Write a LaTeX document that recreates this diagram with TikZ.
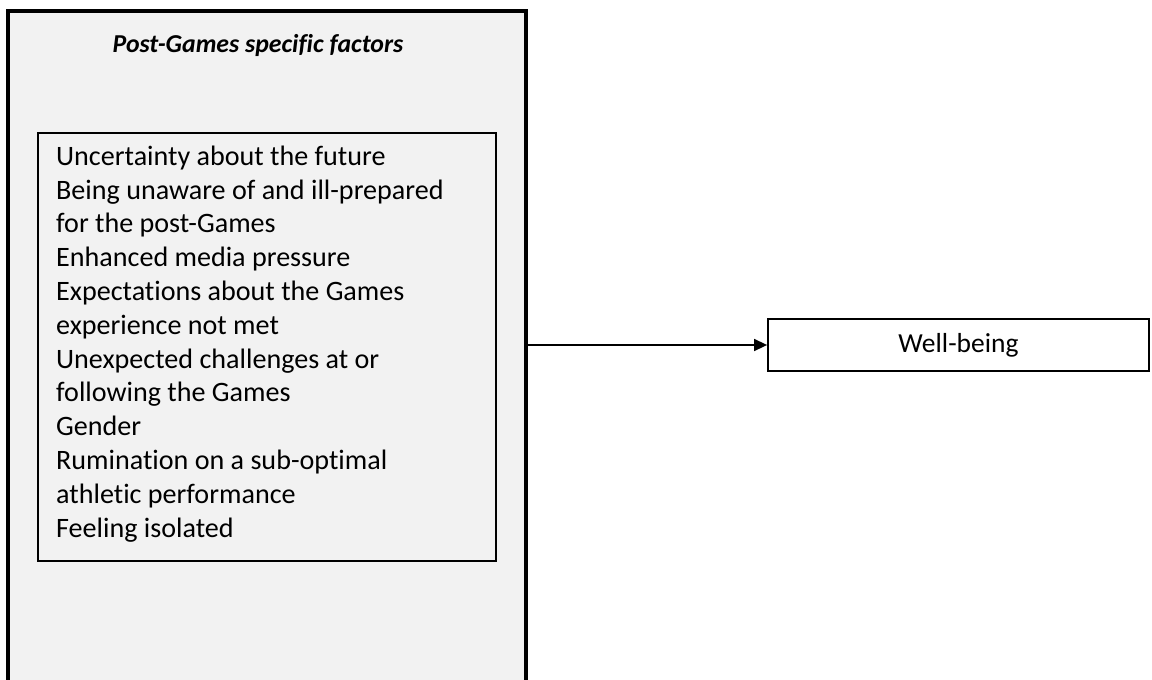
\documentclass[tikz,border=0pt]{standalone}
\usepackage{fontspec}
\setmainfont{Carlito}[Ligatures=NoCommon]
\usetikzlibrary{arrows.meta}
\definecolor{panelgrey}{HTML}{F2F2F2}
\tikzset{
  panel/.style={draw=black, fill=panelgrey, line width=4pt, inner sep=0pt},
  listbox/.style={draw=black, fill=panelgrey, line width=1.6pt, inner sep=0pt},
  outbox/.style={draw=black, fill=white, line width=1.8pt, inner sep=0pt,
    font=\fontsize{27.5}{30}\selectfont},
  listtext/.style={align=left, inner sep=0pt, font=\fontsize{28.1}{33.8}\selectfont},
  titletext/.style={inner sep=0pt, font=\fontsize{25.8}{30}\selectfont\bfseries\itshape},
  flow/.style={line width=1.5pt, -{Triangle[length=13pt,width=12pt]}}
}
\begin{document}
\begin{tikzpicture}[x=1pt,y=-1pt]
\useasboundingbox (0,0) rectangle (1152,680);
\fill[white] (0,0) rectangle (1152,680);
\node[panel, minimum width=518pt, minimum height=675pt] (outer) at (267,348) {};
\node[titletext, anchor=base] (title) at (258,52.5) {Post-Games specific factors};
\node[listbox, minimum width=458pt, minimum height=428pt] (inner) at (267,347) {};
\node[listtext, anchor=base west] (list) at (56,537) {Uncertainty about the future\\
Being unaware of and ill-prepared\\
for the post-Games\\
Enhanced media pressure\\
Expectations about the Games\\
experience not met\\
Unexpected challenges at or\\
following the Games\\
Gender\\
Rumination on a sub-optimal\\
athletic performance\\
Feeling isolated};
\node[outbox, minimum width=381pt, minimum height=52pt] (wb) at (958.5,345) {Well-being};
\draw[flow] (wb.west -| outer.east) -- (wb.west);
\end{tikzpicture}
\end{document}
